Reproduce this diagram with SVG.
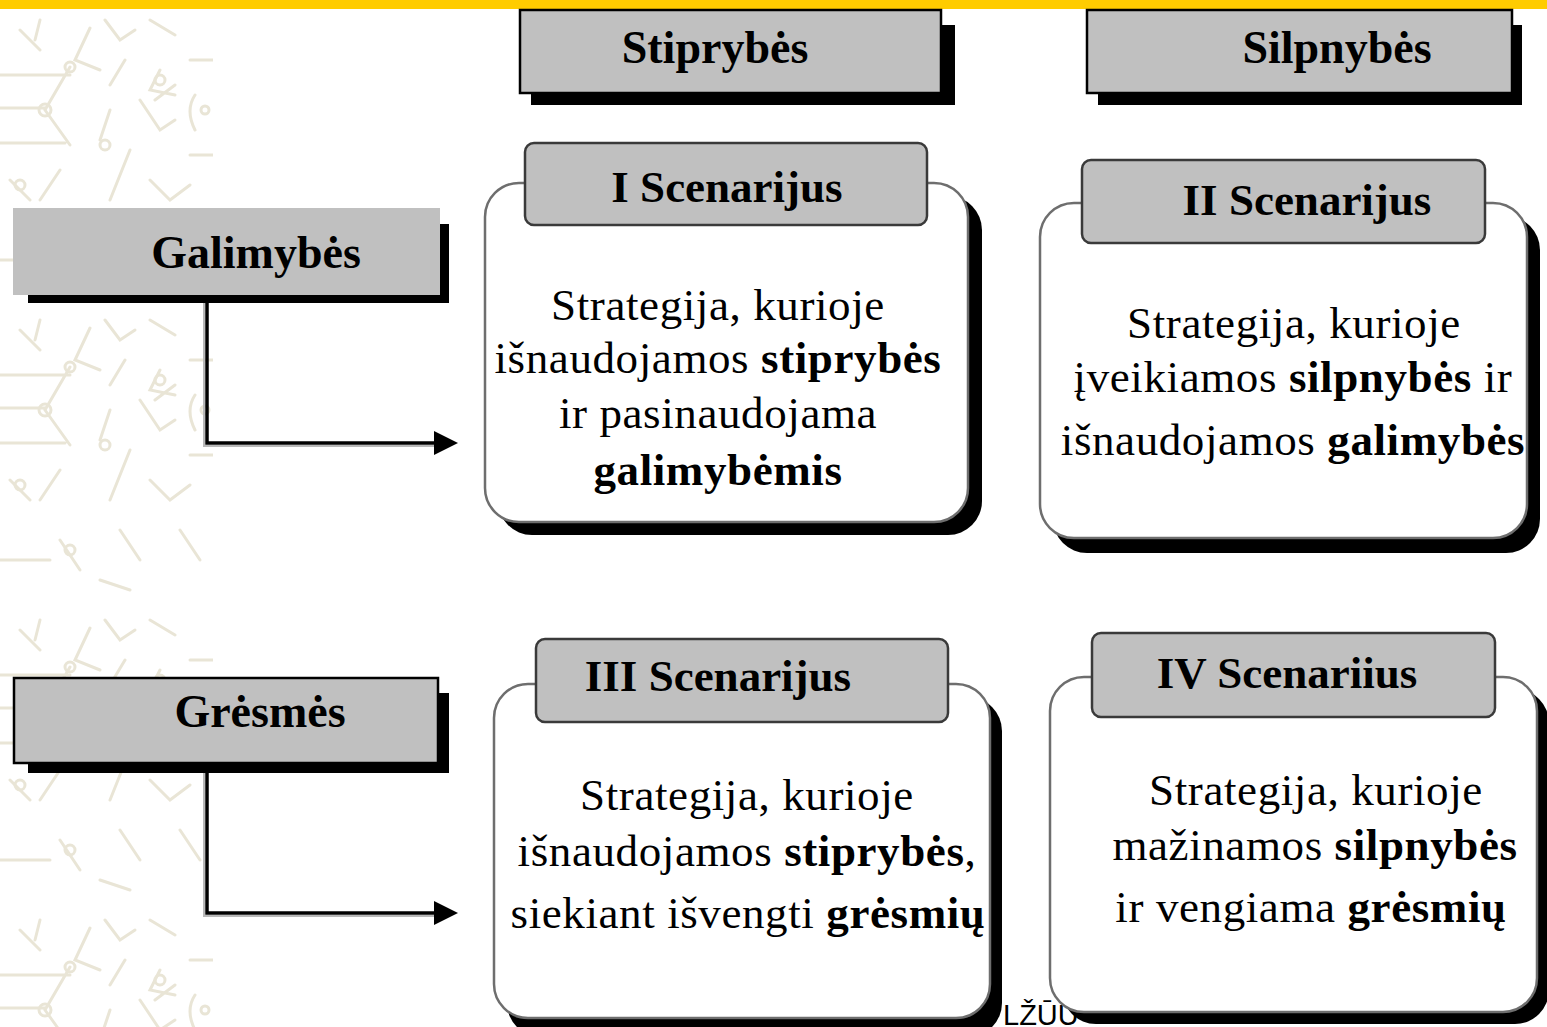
<svg xmlns="http://www.w3.org/2000/svg" width="1547" height="1027" viewBox="0 0 1547 1027">
<style>
.hdr{font-family:"Liberation Serif","Times New Roman",serif;font-weight:bold;font-size:46px;fill:#000;text-anchor:middle}
.ttl{font-family:"Liberation Serif","Times New Roman",serif;font-weight:bold;font-size:45px;fill:#000;text-anchor:middle}
.body{font-family:"Liberation Serif","Times New Roman",serif;font-size:45px;fill:#000;text-anchor:middle;letter-spacing:0.6px}
.b{font-weight:bold}
.hbox{fill:#C0C0C0;stroke:#000;stroke-width:2.5}
.shadow{fill:#000}
.card{fill:#fff;stroke:#6e6e6e;stroke-width:2.5}
.tab{fill:#C0C0C0;stroke:#3a3a3a;stroke-width:2.5}
.conn{fill:none;stroke:#000;stroke-width:3.5}
.connsh{fill:none;stroke:#b8b8b8;stroke-width:2}
.pat{fill:none;stroke:#E9E5D6;stroke-width:3;stroke-linecap:round}
</style>
<defs>
<marker id="arrow" markerUnits="userSpaceOnUse" markerWidth="26" markerHeight="26" refX="2" refY="12" orient="auto">
<path d="M0,0 L24,12 L0,24 Z" fill="#000"/>
</marker>
<pattern id="bgpat" patternUnits="userSpaceOnUse" x="0" y="0" width="213" height="300">
<g class="pat">
<path d="M0,75 H70 M70,67 L45,110 L70,145 M0,108 H45 M0,143 H65 M90,28 L75,60 L100,70 M40,20 L35,40 M105,20 L120,40 L135,30 M160,70 L150,90 L175,95 M140,100 L160,130 L175,120 M190,60 H213 M190,155 H213 M155,100 L175,85 M110,110 L100,140 M130,150 L110,200 M60,170 L40,200 M10,180 L30,200 M150,180 L170,200 L190,185 M120,230 L140,260 M60,240 L80,270 M0,260 H50 M180,230 L200,260 M100,280 L130,290 M20,30 L40,50 M125,60 L110,85 M195,95 Q185,110 195,130 M150,20 L175,35"/>
<circle cx="70" cy="67" r="5"/><circle cx="45" cy="110" r="6"/><circle cx="160" cy="80" r="5"/><circle cx="105" cy="145" r="5"/><circle cx="20" cy="185" r="5"/><circle cx="70" cy="250" r="5"/><circle cx="205" cy="110" r="4"/>
</g>
</pattern>
</defs>
<rect x="0" y="0" width="1547" height="1027" fill="#fff"/>
<rect x="0" y="0" width="1547" height="9" fill="#FFCC00"/>
<rect x="0" y="0" width="213" height="1027" fill="url(#bgpat)"/>

<g id="connectors">
<path class="connsh" d="M204,296 V446 H436"/>
<path class="conn" d="M207,295 V443 H436" marker-end="url(#arrow)"/>
<path class="connsh" d="M204,764 V916 H436"/>
<path class="conn" d="M207,763 V913 H436" marker-end="url(#arrow)"/>
</g>

<g id="stiprybes">
<rect class="shadow" x="531" y="25" width="424" height="80"/>
<rect class="hbox" x="520" y="10" width="421" height="83"/>
<text class="hdr" x="715" y="63">Stiprybės</text>
</g>

<g id="silpnybes">
<rect class="shadow" x="1098" y="25" width="424" height="80"/>
<rect class="hbox" x="1087" y="10" width="425" height="83"/>
<text class="hdr" x="1337" y="63">Silpnybės</text>
</g>

<g id="galimybes">
<rect class="shadow" x="28" y="224" width="421" height="79"/>
<rect x="13" y="208" width="427" height="87" fill="#C0C0C0"/>
<text class="hdr" x="256" y="268">Galimybės</text>
</g>

<g id="gresmes">
<rect class="shadow" x="28" y="693" width="421" height="80"/>
<rect class="hbox" x="14" y="678" width="424" height="85"/>
<text class="hdr" x="260" y="727">Grėsmės</text>
</g>

<g id="scenarijus1">
<rect class="shadow" x="498" y="196" width="484" height="339" rx="34"/>
<rect class="card" x="485" y="183" width="483" height="339" rx="34"/>
<rect class="tab" x="525" y="143" width="402" height="82" rx="9"/>
<text class="ttl" x="727" y="202">I Scenarijus</text>
<text class="body" x="718" y="320">Strategija, kurioje</text>
<text class="body" x="718" y="373">išnaudojamos <tspan class="b">stiprybės</tspan></text>
<text class="body" x="718" y="428">ir pasinaudojama</text>
<text class="body b" x="718" y="485">galimybėmis</text>
</g>

<g id="scenarijus2">
<rect class="shadow" x="1053" y="216" width="487" height="337" rx="34"/>
<rect class="card" x="1040" y="203" width="487" height="335" rx="34"/>
<rect class="tab" x="1082" y="160" width="403" height="83" rx="9"/>
<text class="ttl" x="1307" y="215">II Scenarijus</text>
<text class="body" x="1294" y="338">Strategija, kurioje</text>
<text class="body" x="1293" y="392">įveikiamos <tspan class="b">silpnybės</tspan> ir</text>
<text class="body" x="1293" y="455">išnaudojamos <tspan class="b">galimybės</tspan></text>
</g>

<g id="scenarijus3">
<rect class="shadow" x="507" y="697" width="495" height="340" rx="34"/>
<rect class="card" x="494" y="684" width="496" height="334" rx="34"/>
<rect class="tab" x="536" y="639" width="412" height="83" rx="9"/>
<text class="ttl" x="718" y="691">III Scenarijus</text>
<text class="body" x="747" y="810">Strategija, kurioje</text>
<text class="body" x="747" y="866">išnaudojamos <tspan class="b">stiprybės</tspan>,</text>
<text class="body" x="748" y="928">siekiant išvengti <tspan class="b">grėsmių</tspan></text>
</g>

<text id="footer" x="1003" y="1025" font-family="'Liberation Sans',Arial,sans-serif" font-size="29" fill="#000">LŽŪU</text>

<g id="scenarijus4">
<rect class="shadow" x="1062" y="689" width="487" height="335" rx="34"/>
<rect class="card" x="1050" y="677" width="487" height="335" rx="34"/>
<rect class="tab" x="1092" y="633" width="403" height="84" rx="9"/>
<text class="ttl" x="1287" y="688">IV Scenariius</text>
<text class="body" x="1316" y="805">Strategija, kurioje</text>
<text class="body" x="1315" y="860">mažinamos <tspan class="b">silpnybės</tspan></text>
<text class="body" x="1311" y="922">ir vengiama <tspan class="b">grėsmių</tspan></text>
</g>
</svg>
